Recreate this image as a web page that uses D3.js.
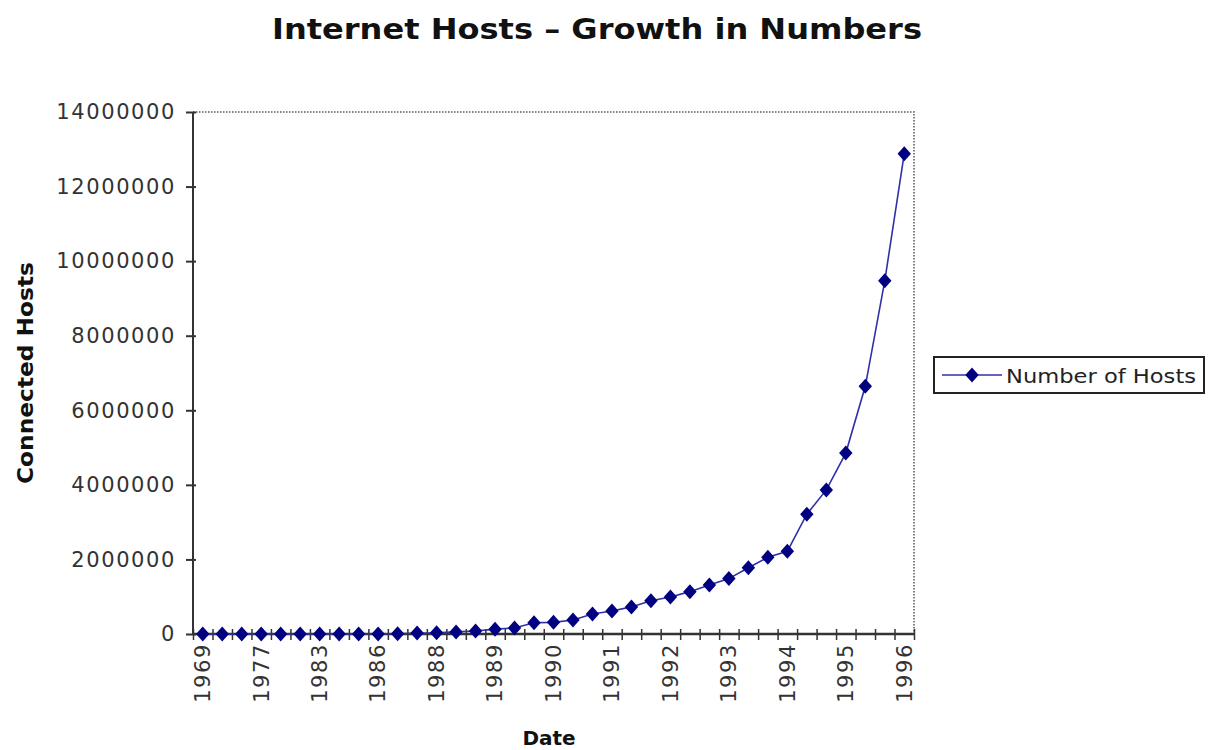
<!DOCTYPE html>
<html>
<head>
<meta charset="utf-8">
<script src="https://cdn.jsdelivr.net/npm/d3@7"></script>
<style>
  html, body { margin: 0; padding: 0; background: #ffffff; }
  svg { display: block; }
</style>
</head>
<body>
<svg id="chart" width="1209" height="750"></svg>
<script>
// ---- data ----
const categories = ["1969","1971","1974","1977","1979","1981","1983","1984","1985","1986",
  "1986","1987","1988","1988","1989","1989","1989","1990","1990","1991",
  "1991","1991","1992","1992","1992","1992","1993","1993","1993","1993",
  "1994","1994","1994","1995","1995","1996","1996"];
const hosts = [4, 23, 62, 111, 188, 213, 562, 1024, 1961, 2308,
  5089, 28174, 33000, 56000, 80000, 130000, 159000, 300000, 313000, 376000,
  535000, 617000, 727000, 890000, 992000, 1136000, 1313000, 1486000, 1776000, 2056000,
  2217000, 3212000, 3864000, 4852000, 6642000, 9472000, 12881000];
const yTicks = [0, 2000000, 4000000, 6000000, 8000000, 10000000, 12000000, 14000000];
const labelEvery = 3;
const titleText = "Internet Hosts \u2013 Growth in Numbers";
const xTitle = "Date";
const yTitle = "Connected Hosts";
const seriesName = "Number of Hosts";

// ---- layout ----
const plot = { left: 193, right: 914, top: 112, bottom: 634 };
const navy = "#000080";
const lineColor = "#3030a8";
const svg = d3.select("#chart");

const idx = d3.range(hosts.length);
const x = d3.scaleBand().domain(idx).range([plot.left, plot.right]).padding(0);
const xEdge = d3.scaleLinear().domain([0, hosts.length]).range([plot.left, plot.right]);
const y = d3.scaleLinear().domain([0, 14000000]).range([plot.bottom, plot.top]);
const cx = i => x(i) + x.bandwidth() / 2;

// title
svg.append("text")
  .attr("x", 597).attr("y", 39)
  .attr("text-anchor", "middle")
  .attr("font-family", "DejaVu Sans, sans-serif")
  .attr("font-weight", "bold")
  .attr("font-size", 28)
  .attr("textLength", 650).attr("lengthAdjust", "spacingAndGlyphs")
  .attr("fill", "#111")
  .text(titleText);

// plot area border (dotted top/right)
svg.append("path")
  .attr("d", `M${plot.left},${plot.top}H${plot.right}V${plot.bottom}`)
  .attr("fill", "none")
  .attr("stroke", "#555")
  .attr("stroke-width", 1.5)
  .attr("stroke-dasharray", "1.5,1.5");

// y axis: labels + outer ticks
const yAxis = svg.append("g")
  .attr("transform", `translate(${plot.left},0)`)
  .call(d3.axisLeft(y).tickValues(yTicks).tickSize(7).tickPadding(10).tickFormat(d3.format("d")));
yAxis.select(".domain").remove();
yAxis.selectAll(".tick line").attr("stroke", "#333").attr("stroke-width", 2);
yAxis.selectAll(".tick text")
  .attr("font-family", "DejaVu Sans, sans-serif")
  .attr("font-size", 21)
  .attr("letter-spacing", 1.6)
  .attr("fill", "#333");
// inner part of the cross ticks
svg.append("g")
  .attr("transform", `translate(${plot.left},0)`)
  .call(d3.axisRight(y).tickValues(yTicks).tickSize(3).tickFormat(""))
  .call(g => g.select(".domain").remove())
  .selectAll(".tick line").attr("stroke", "#333").attr("stroke-width", 2);

// x axis ticks at category edges (cross style)
svg.append("g")
  .attr("transform", `translate(0,${plot.bottom})`)
  .call(d3.axisBottom(xEdge).tickValues(d3.range(hosts.length + 1)).tickSize(6).tickFormat(""))
  .call(g => g.select(".domain").remove())
  .selectAll(".tick line").attr("stroke", "#333").attr("stroke-width", 1.5);
svg.append("g")
  .attr("transform", `translate(0,${plot.bottom})`)
  .call(d3.axisTop(xEdge).tickValues(d3.range(hosts.length + 1)).tickSize(5).tickFormat(""))
  .call(g => g.select(".domain").remove())
  .selectAll(".tick line").attr("stroke", "#333").attr("stroke-width", 1.5);

// x labels (rotated)
const xAxis = svg.append("g")
  .attr("transform", `translate(0,${plot.bottom})`)
  .call(d3.axisBottom(x)
    .tickValues(idx.filter(i => i % labelEvery === 0))
    .tickSize(0)
    .tickFormat(i => categories[i]));
xAxis.select(".domain").remove();
xAxis.selectAll(".tick text")
  .attr("font-family", "DejaVu Sans, sans-serif")
  .attr("font-size", 21)
  .attr("letter-spacing", 1.6)
  .attr("fill", "#333")
  .attr("text-anchor", "end")
  .attr("dy", "0.35em")
  .attr("transform", "translate(0,9) rotate(-90)")
  .attr("x", 0).attr("y", 0);

// axis lines
svg.append("line")
  .attr("x1", plot.left).attr("x2", plot.left)
  .attr("y1", plot.top).attr("y2", plot.bottom)
  .attr("stroke", "#333").attr("stroke-width", 2);
svg.append("line")
  .attr("x1", plot.left).attr("x2", plot.right)
  .attr("y1", plot.bottom).attr("y2", plot.bottom)
  .attr("stroke", "#333").attr("stroke-width", 2.5);

// axis titles
svg.append("text")
  .attr("transform", `translate(33,${(plot.top + plot.bottom) / 2}) rotate(-90)`)
  .attr("text-anchor", "middle")
  .attr("font-family", "DejaVu Sans, sans-serif")
  .attr("font-weight", "bold")
  .attr("font-size", 21)
  .attr("textLength", 222).attr("lengthAdjust", "spacingAndGlyphs")
  .attr("fill", "#111")
  .text(yTitle);
svg.append("text")
  .attr("x", 549).attr("y", 745)
  .attr("text-anchor", "middle")
  .attr("font-family", "DejaVu Sans, sans-serif")
  .attr("font-weight", "bold")
  .attr("font-size", 20)
  .attr("fill", "#111")
  .text(xTitle);

// series line
const line = d3.line().x((d, i) => cx(i)).y(d => y(d));
svg.append("path")
  .datum(hosts)
  .attr("d", line)
  .attr("fill", "none")
  .attr("stroke", lineColor)
  .attr("stroke-width", 1.6);

// markers
const diamond = d3.symbol(d3.symbolSquare, 90)();
svg.append("g").selectAll("path")
  .data(hosts)
  .join("path")
  .attr("d", diamond)
  .attr("transform", (d, i) => `translate(${cx(i)},${y(d)}) scale(1,1.12) rotate(45)`)
  .attr("fill", navy);

// legend
const lg = svg.append("g").attr("transform", "translate(934,357)");
lg.append("rect")
  .attr("x", 0).attr("y", 0).attr("width", 270).attr("height", 36)
  .attr("fill", "#fff").attr("stroke", "#222").attr("stroke-width", 2);
lg.append("line")
  .attr("x1", 8).attr("x2", 68).attr("y1", 18).attr("y2", 18)
  .attr("stroke", lineColor).attr("stroke-width", 1.6);
lg.append("path")
  .attr("d", diamond)
  .attr("transform", "translate(38,18) scale(1,1.12) rotate(45)")
  .attr("fill", navy);
lg.append("text")
  .attr("x", 72).attr("y", 26)
  .attr("font-family", "DejaVu Sans, sans-serif")
  .attr("font-size", 20)
  .attr("textLength", 190).attr("lengthAdjust", "spacingAndGlyphs")
  .attr("fill", "#222")
  .text(seriesName);
</script>
</body>
</html>
